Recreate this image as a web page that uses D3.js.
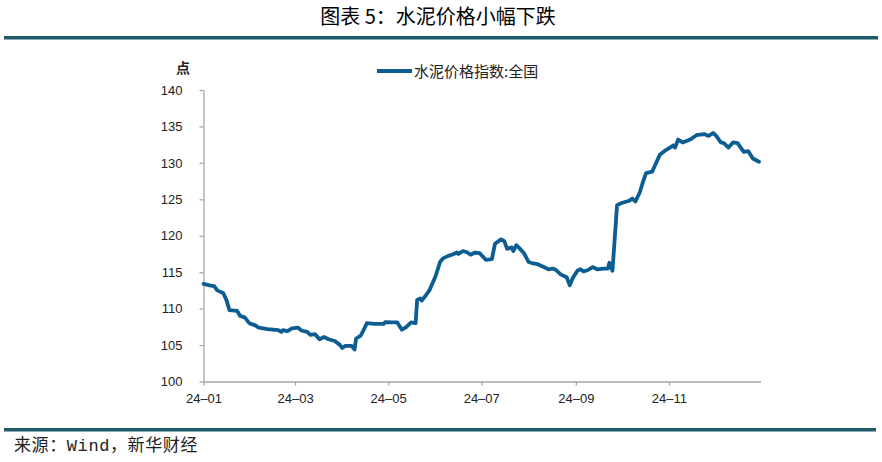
<!DOCTYPE html>
<html><head><meta charset="utf-8">
<script src="https://cdn.jsdelivr.net/npm/d3@7/dist/d3.min.js"></script>
<style>
html,body{margin:0;padding:0;background:#fff;}
svg{display:block;}
</style></head>
<body>
<svg id="chart" width="882" height="462"></svg>
<script>
const title = "图表 5：水泥价格小幅下跌";
const seriesName = "水泥价格指数:全国";
const unitLabel = "点";
const sourceText = "来源：Wind，新华财经";
const yTicks = [100, 105, 110, 115, 120, 125, 130, 135, 140];
const xTickDates = ["2024-01-01","2024-03-01","2024-05-01","2024-07-01","2024-09-01","2024-11-01"];
const dates = [
"2024-01-01","2024-01-05","2024-01-08","2024-01-10","2024-01-14","2024-01-16","2024-01-18","2024-01-23","2024-01-25","2024-01-28",
"2024-01-31","2024-02-04","2024-02-06","2024-02-12","2024-02-19","2024-02-21","2024-02-22","2024-02-25","2024-02-28","2024-03-03",
"2024-03-05","2024-03-09","2024-03-11","2024-03-14","2024-03-17","2024-03-20","2024-03-23","2024-03-27","2024-03-30","2024-04-01",
"2024-04-03","2024-04-07","2024-04-09","2024-04-10","2024-04-13","2024-04-15","2024-04-17","2024-04-22","2024-04-28","2024-04-29",
"2024-05-04","2024-05-07","2024-05-10","2024-05-13","2024-05-16","2024-05-19","2024-05-20","2024-05-22","2024-05-23","2024-05-26",
"2024-05-28","2024-06-01","2024-06-04","2024-06-06","2024-06-09","2024-06-13","2024-06-15","2024-06-16","2024-06-19","2024-06-22",
"2024-06-24","2024-06-27","2024-06-30","2024-07-04","2024-07-08","2024-07-10","2024-07-14","2024-07-16","2024-07-18","2024-07-21",
"2024-07-22","2024-07-24","2024-07-26","2024-07-29","2024-08-01","2024-08-04","2024-08-07","2024-08-11","2024-08-14","2024-08-17",
"2024-08-19","2024-08-22","2024-08-26","2024-08-28","2024-08-30","2024-09-02","2024-09-04","2024-09-06","2024-09-09","2024-09-12",
"2024-09-15","2024-09-19","2024-09-22","2024-09-23","2024-09-25","2024-09-28","2024-10-01","2024-10-06","2024-10-08","2024-10-10",
"2024-10-13","2024-10-15","2024-10-17","2024-10-21","2024-10-23","2024-10-26","2024-10-30","2024-11-04","2024-11-05","2024-11-07",
"2024-11-10","2024-11-15","2024-11-19","2024-11-24","2024-11-27","2024-11-30","2024-12-02","2024-12-05","2024-12-07","2024-12-10",
"2024-12-13","2024-12-16","2024-12-20","2024-12-23","2024-12-26","2024-12-30"];
const values = [
113.4,113.2,113.1,112.5,112.1,111.2,109.8,109.7,109.0,108.8,
108.0,107.7,107.4,107.2,107.05,106.8,107.05,106.9,107.3,107.4,
107.0,106.8,106.4,106.5,105.8,106.1,105.8,105.55,105.1,104.6,
104.9,104.9,104.4,105.9,106.3,107.1,108.0,107.9,107.9,108.15,
108.1,108.1,107.1,107.5,108.1,108.0,111.2,111.4,111.1,111.9,
112.5,114.4,116.4,116.9,117.2,117.5,117.7,117.5,117.9,117.7,
117.4,117.7,117.6,116.7,116.8,118.9,119.5,119.3,118.2,118.4,
117.9,118.7,118.3,117.6,116.4,116.2,116.1,115.7,115.4,115.5,
115.3,114.7,114.3,113.2,114.2,115.2,115.4,115.1,115.3,115.7,
115.4,115.5,115.5,116.3,115.2,124.2,124.5,124.8,125.1,124.7,
126.0,127.4,128.6,128.8,129.7,131.1,131.75,132.4,132.1,133.2,
132.8,133.2,133.8,133.95,133.7,134.1,133.7,132.8,132.7,132.1,
132.8,132.7,131.5,131.6,130.6,130.15];

const parse = d3.timeParse("%Y-%m-%d");
const data = dates.map((d,i)=>({date:parse(d), value:values[i]}));

const svg = d3.select("#chart");
const m = {left:203.5, right:760.5, top:90, bottom:381.5};

const x = d3.scaleTime().domain([parse("2024-01-01"), parse("2024-12-31")]).range([m.left, m.right]);
const y = d3.scaleLinear().domain([100,140]).range([m.bottom, m.top]);

const ruleColor = "#1f5b6b";
const cjk = "'Noto Sans CJK SC','Noto Sans',sans-serif";
const latin = "'Liberation Sans',Arial,sans-serif";

// Title
svg.append("text").attr("x",438).attr("y",24).attr("text-anchor","middle")
  .attr("font-family",cjk).attr("font-weight","normal").attr("font-size",20).attr("fill","#000")
  .text(title);
svg.append("rect").attr("x",4).attr("y",36).attr("width",874).attr("height",3.5).attr("fill",ruleColor);
svg.append("rect").attr("x",4).attr("y",428).attr("width",872).attr("height",3.5).attr("fill",ruleColor);

// Source
svg.append("text").attr("x",14).attr("y",451).attr("font-family","'Liberation Mono','Noto Sans CJK SC',monospace")
  .attr("font-size",17).attr("letter-spacing",0.6).attr("fill","#222").text(sourceText);

// Axes
const axisColor = "#a6a6a6";
const yAxis = svg.append("g").attr("transform",`translate(${m.left},0)`)
  .call(d3.axisLeft(y).tickValues(yTicks).tickSize(4).tickSizeOuter(0).tickPadding(17));
const xAxis = svg.append("g").attr("transform",`translate(0,${m.bottom})`)
  .call(d3.axisBottom(x).tickValues(xTickDates.map(parse)).tickFormat(d3.timeFormat("%y-%m")).tickSize(4).tickSizeOuter(0).tickPadding(8));
[yAxis,xAxis].forEach(g=>{
  g.select(".domain").attr("stroke",axisColor).attr("stroke-width",1.3);
  g.selectAll(".tick line").attr("stroke",axisColor).attr("stroke-width",1.3);
  g.selectAll(".tick text").attr("font-family",latin).attr("font-size",13).attr("fill","#222");
});
xAxis.selectAll(".tick text").text(function(){return d3.select(this).text().replace("-","\u2013");});

// Unit label
svg.append("text").attr("x",183).attr("y",73).attr("text-anchor","middle")
  .attr("font-family",cjk).attr("font-size",14).attr("font-weight","bold").attr("fill","#222").text(unitLabel);

// Legend
svg.append("line").attr("x1",377).attr("x2",412).attr("y1",71).attr("y2",71)
  .attr("stroke","#0c5d92").attr("stroke-width",4);
svg.append("text").attr("x",414).attr("y",77).attr("font-family",cjk).attr("font-size",15)
  .attr("fill","#222").text(seriesName);

// Line
const line = d3.line().x(d=>x(d.date)).y(d=>y(d.value));
svg.append("path").datum(data).attr("d",line).attr("fill","none")
  .attr("stroke","#0c5d92").attr("stroke-width",3.8).attr("stroke-linejoin","round").attr("stroke-linecap","round");
</script>
</body></html>
